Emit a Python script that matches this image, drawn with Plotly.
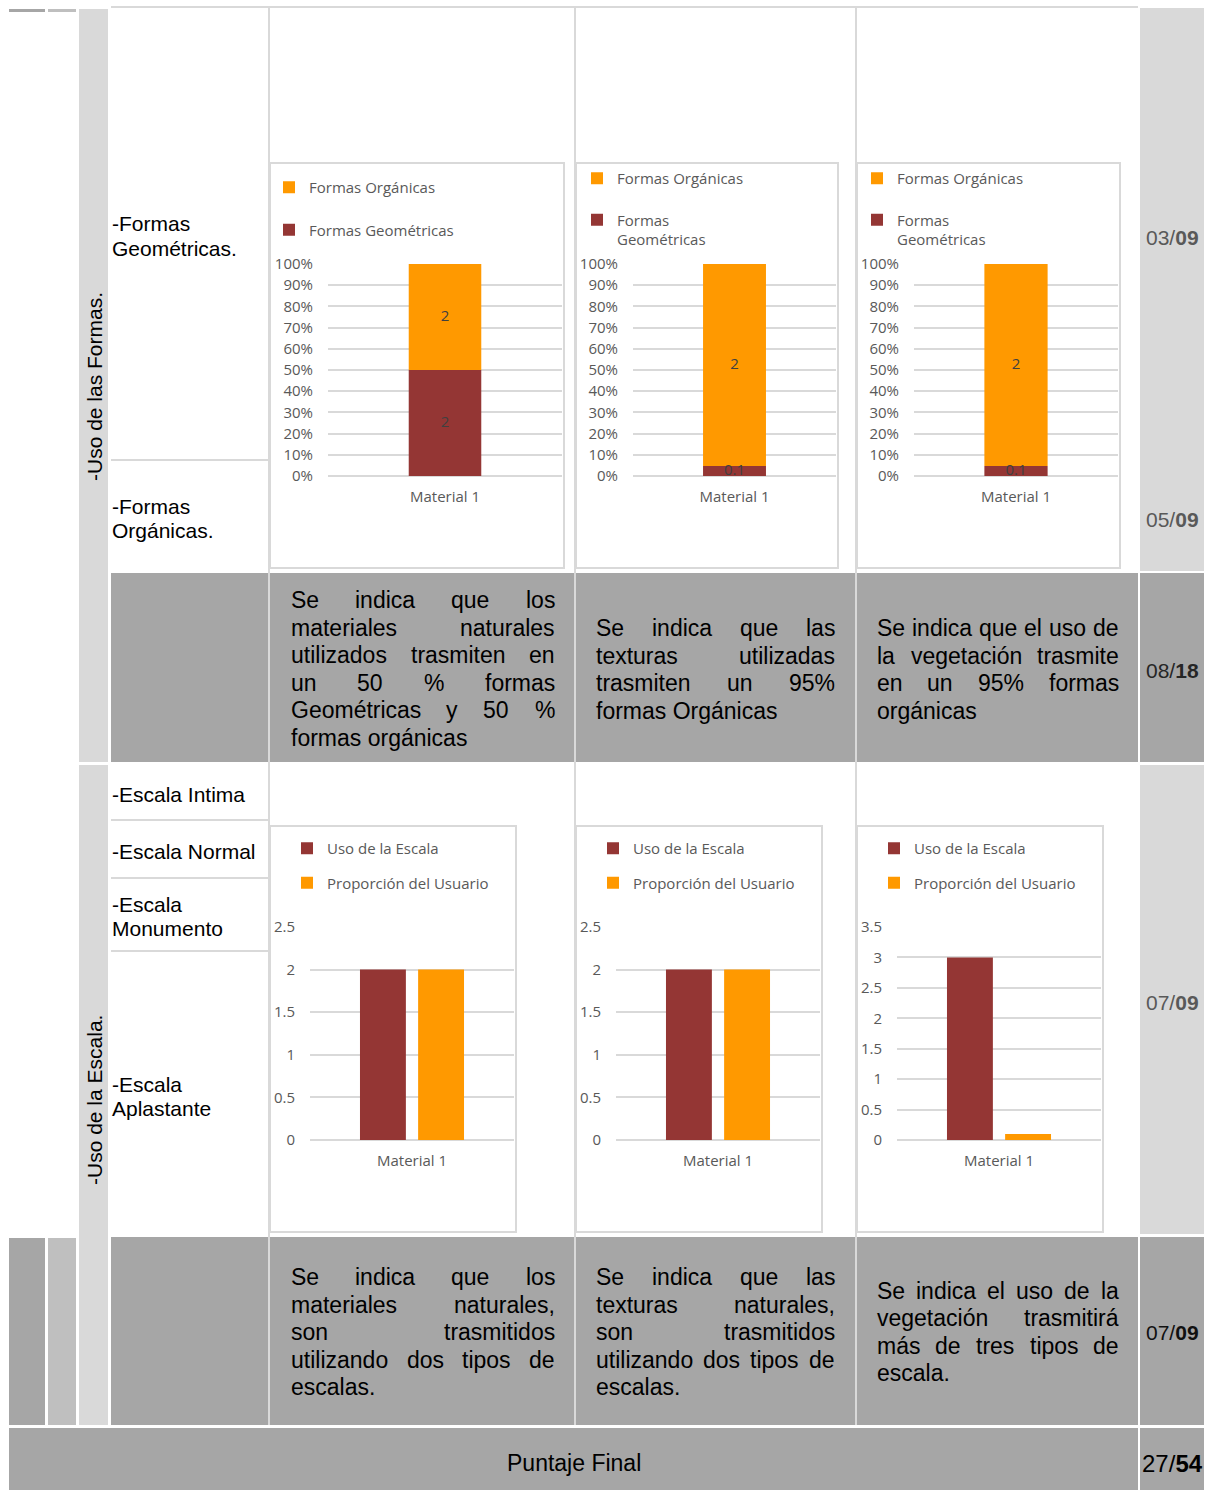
import plotly.graph_objects as go

W, H = 1208, 1490

# ------------------------------------------------------------------ data
categories = ["Material 1"]

# Uso de las Formas (100% stacked) - one chart per column
formas_geometricas = [2, 0.1, 0.1]
formas_organicas = [2, 2, 2]
geo_names = ["Formas Geométricas", "Formas<br>Geométricas", "Formas<br>Geométricas"]
org_name = "Formas Orgánicas"

# Uso de la Escala (clustered) - one chart per column
uso_escala = [2, 2, 3]
proporcion_usuario = [2, 2, 0.1]
escala_names = ["Uso de la Escala", "Proporción del Usuario"]
escala_max = [2.5, 2.5, 3.5]

section_titles = ["-Uso de las Formas.", "-Uso de la Escala."]
formas_labels = [["-Formas", "Geométricas."], ["-Formas", "Orgánicas."]]
escala_labels = [["-Escala Intima"], ["-Escala Normal"], ["-Escala", "Monumento"], ["-Escala", "Aplastante"]]
scores = [("03", "09"), ("05", "09"), ("08", "18"), ("07", "09"), ("07", "09")]
final_label = "Puntaje Final"
final_score = ("27", "54")

text_formas = [
    ["Se indica que los", "materiales naturales", "utilizados trasmiten en",
     "un 50 % formas", "Geométricas y 50 %", "formas orgánicas"],
    ["Se indica que las", "texturas utilizadas", "trasmiten un 95%", "formas Orgánicas"],
    ["Se indica que el uso de", "la vegetación trasmite", "en un 95% formas", "orgánicas"],
]
text_escala = [
    ["Se indica que los", "materiales naturales,", "son trasmitidos",
     "utilizando dos tipos de", "escalas."],
    ["Se indica que las", "texturas naturales,", "son trasmitidos",
     "utilizando dos tipos de", "escalas."],
    ["Se indica el uso de la", "vegetación trasmitirá", "más de tres tipos de", "escala."],
]

# ------------------------------------------------------------------ style
MAROON = "#943634"
ORANGE = "#FF9900"
GRID = "#D9D9D9"
LIGHT = "#D9D9D9"
MID = "#BFBFBF"
DARK = "#A6A6A6"
CHART_TXT = "#595959"
CFONT = "Open Sans"
TFONT = "Liberation Sans, Arial"


def px(x):
    return x / W


def py(y):
    return 1 - y / H


shapes = []
annotations = []


def rect(x0, y0, x1, y1, fill=None, line=None, lw=0):
    shapes.append(dict(type="rect", xref="paper", yref="paper",
                       x0=px(x0), x1=px(x1), y0=py(y1), y1=py(y0),
                       fillcolor=fill if fill else "rgba(0,0,0,0)",
                       line=dict(color=line if line else "rgba(0,0,0,0)", width=lw),
                       layer="below"))


def ann(text, x, y, size, color="black", xanchor="left", family=TFONT, angle=0):
    annotations.append(dict(text=text, x=px(x), y=py(y), xref="paper", yref="paper",
                            xanchor=xanchor, yanchor="middle", showarrow=False,
                            textangle=angle, font=dict(size=size, color=color, family=family)))


# Arial / Liberation Sans advance widths (per 1000 em)
AW = {' ': 278, ',': 278, '.': 278, '-': 333, '/': 278, '%': 889,
      'a': 556, 'b': 556, 'c': 500, 'd': 556, 'e': 556, 'f': 278, 'g': 556, 'h': 556,
      'i': 222, 'j': 222, 'k': 500, 'l': 222, 'm': 833, 'n': 556, 'o': 556, 'p': 556,
      'q': 556, 'r': 333, 's': 500, 't': 278, 'u': 556, 'v': 500, 'w': 722, 'x': 500,
      'y': 500, 'z': 500, 'á': 556, 'é': 556, 'í': 278, 'ó': 556, 'ú': 556, 'ñ': 556,
      'A': 667, 'B': 667, 'C': 722, 'D': 722, 'E': 667, 'F': 611, 'G': 778, 'H': 722,
      'I': 278, 'J': 500, 'K': 667, 'L': 556, 'M': 833, 'N': 722, 'O': 778, 'P': 667,
      'Q': 778, 'R': 722, 'S': 667, 'T': 611, 'U': 722, 'V': 667, 'W': 944, 'X': 667,
      'Y': 667, 'Z': 611}


def tw(s, fs):
    return sum(AW.get(c, 556) for c in s) * fs / 1000.0


def justified(lines, x0, x1, y_first, lh, fs, color="black"):
    for k, line in enumerate(lines):
        y = y_first + k * lh
        words = line.split()
        if k == len(lines) - 1 or len(words) == 1:
            ann(line, x0 + tw(line, fs) / 2, y, fs, color, xanchor="center")
            continue
        widths = [tw(w, fs) for w in words]
        gap = (x1 - x0 - sum(widths)) / (len(words) - 1)
        x = x0
        for j, w in enumerate(words):
            ann(w, x + widths[j] / 2, y, fs, color, xanchor="center")
            x += widths[j] + gap


# ------------------------------------------------------------------ table frame
rect(9, 9, 45, 12, DARK)
rect(48, 9, 76, 12, MID)
rect(111, 6, 1138, 8, LIGHT)

# vertical title column
rect(79, 9, 108, 762, LIGHT)
rect(79, 765, 108, 1425, LIGHT)

# score column
rect(1140, 8, 1204, 571, LIGHT)
rect(1140, 573, 1204, 762, DARK)
rect(1140, 765, 1204, 1234, LIGHT)
rect(1140, 1237, 1204, 1425, DARK)

# text rows
rect(111, 573, 1138, 762, DARK)
rect(111, 1237, 1138, 1425, DARK)
rect(9, 1238, 45, 1425, DARK)
rect(48, 1238, 76, 1425, MID)

# final row
rect(9, 1428, 1138, 1490, DARK)
rect(1140, 1428, 1204, 1490, DARK)

# column separators
for xs in (268, 574, 855):
    rect(xs, 8, xs + 2, 1425, LIGHT)

# label cell separators
for ys in (459, 819, 877, 950):
    rect(111, ys, 268, ys + 2, LIGHT)

# chart boxes
top_boxes = [(270, 163, 564, 568), (576, 163, 838, 568), (857, 163, 1120, 568)]
bot_boxes = [(270, 826, 516, 1232), (576, 826, 822, 1232), (857, 826, 1103, 1232)]
for b in top_boxes + bot_boxes:
    rect(*b, fill="white", line=LIGHT, lw=2)

# ------------------------------------------------------------------ texts
ann(section_titles[0], 94, 387, 21, angle=-90, xanchor="center")
ann(section_titles[1], 94, 1100, 21, angle=-90, xanchor="center")

for lines, y0 in zip(formas_labels, (224, 506)):
    for k, t in enumerate(lines):
        ann(t, 110, y0 + 24 * k, 21)
for lines, y0 in zip(escala_labels, (794, 851, 904, 1084)):
    for k, t in enumerate(lines):
        ann(t, 110, y0 + 24.5 * k, 21)

score_pos = [(237, "#595959"), (519, "#595959"), (670, "#262626"), (1002, "#595959"), (1332, "#111111")]
for (a, b), (yy, col) in zip(scores, score_pos):
    ann(f"{a}/<b>{b}</b>", 1172, yy, 21, col, xanchor="center")

ann(final_label, 573.5, 1463, 23, xanchor="center")
ann(f"{final_score[0]}/<b>{final_score[1]}</b>", 1172, 1463, 24, xanchor="center")

col_x = [(291, 555), (596, 835), (877, 1119)]
justified(text_formas[0], *col_x[0], 600, 27.6, 23)
justified(text_formas[1], *col_x[1], 628, 27.6, 23)
justified(text_formas[2], *col_x[2], 628, 27.6, 23)
justified(text_escala[0], *col_x[0], 1277, 27.5, 23)
justified(text_escala[1], *col_x[1], 1277, 27.5, 23)
justified(text_escala[2], *col_x[2], 1291, 27.4, 23)

# ------------------------------------------------------------------ charts
fig = go.Figure()
layout = {}

top_plot_x = [(328, 562), (633, 836), (914, 1118)]
bot_plot_x = [(310, 514), (616, 820), (897, 1101)]
top_legend = [(293, 187), (601, 178), (881, 178)]
bot_legend = [(311, 848), (617, 848), (898, 848)]

tickfont = dict(size=15, color=CHART_TXT, family=CFONT)


def fmt(v):
    return f"{v:g}"


for i in range(3):
    n = i + 1
    xa, ya = f"x{n}", f"y{n}"
    lg = "legend" if n == 1 else f"legend{n}"
    g, o = formas_geometricas[i], formas_organicas[i]
    tot = g + o
    pg, po = g / tot * 100, o / tot * 100
    fig.add_trace(go.Bar(x=categories, y=[pg], base=[0], name=geo_names[i],
                         marker=dict(color=MAROON, line=dict(width=0)), width=0.31,
                         xaxis=xa, yaxis=ya, legend=lg, legendgroup=f"g{n}", legendrank=2,
                         hoverinfo="skip"))
    fig.add_trace(go.Bar(x=categories, y=[po], base=[pg], name=org_name,
                         marker=dict(color=ORANGE, line=dict(width=0)), width=0.31,
                         xaxis=xa, yaxis=ya, legend=lg, legendgroup=f"o{n}", legendrank=1,
                         hoverinfo="skip"))
    fig.add_trace(go.Scatter(x=categories * 2, y=[pg / 2, pg + po / 2], mode="text",
                             text=[fmt(g), fmt(o)], textposition="middle center",
                             textfont=dict(size=15, color="#404040", family=CFONT),
                             showlegend=False, cliponaxis=False, xaxis=xa, yaxis=ya,
                             hoverinfo="skip"))
    x0, x1 = top_plot_x[i]
    layout[f"xaxis{n}"] = dict(domain=[px(x0), px(x1)], anchor=ya, type="category",
                               range=[-0.5, 0.5], showgrid=False, zeroline=False,
                               showline=False, ticks="outside", ticklen=7,
                               tickcolor="rgba(0,0,0,0)", tickfont=tickfont, fixedrange=True,
                               automargin=False)
    layout[f"yaxis{n}"] = dict(domain=[py(476), py(264)], anchor=xa, range=[0, 100],
                               tick0=0, dtick=10, ticksuffix="%", showgrid=True,
                               gridcolor=GRID, gridwidth=2, zeroline=True, zerolinecolor=GRID,
                               zerolinewidth=2, showline=False, ticks="outside", ticklen=11,
                               tickcolor="rgba(0,0,0,0)", tickfont=tickfont, fixedrange=True,
                               automargin=False)
    sx, sy = top_legend[i]
    layout[lg] = dict(x=px(sx - 24), y=py(sy - 16), xanchor="left", yanchor="top",
                      bgcolor="rgba(0,0,0,0)", font=dict(size=15, color=CHART_TXT, family=CFONT),
                      traceorder="grouped", tracegroupgap=20 if i == 0 else 19,
                      valign="top")

for i in range(3):
    n = i + 4
    xa, ya = f"x{n}", f"y{n}"
    lg = f"legend{n}"
    fig.add_trace(go.Bar(x=categories, y=[uso_escala[i]], name=escala_names[0],
                         marker=dict(color=MAROON, line=dict(width=0)), offset=-0.255, width=0.225,
                         xaxis=xa, yaxis=ya, legend=lg, legendgroup=f"u{n}", legendrank=1,
                         hoverinfo="skip"))
    fig.add_trace(go.Bar(x=categories, y=[proporcion_usuario[i]], name=escala_names[1],
                         marker=dict(color=ORANGE, line=dict(width=0)), offset=0.03, width=0.225,
                         xaxis=xa, yaxis=ya, legend=lg, legendgroup=f"p{n}", legendrank=2,
                         hoverinfo="skip"))
    x0, x1 = bot_plot_x[i]
    layout[f"xaxis{n}"] = dict(domain=[px(x0), px(x1)], anchor=ya, type="category",
                               range=[-0.5, 0.5], showgrid=False, zeroline=False,
                               showline=False, ticks="outside", ticklen=7,
                               tickcolor="rgba(0,0,0,0)", tickfont=tickfont, fixedrange=True,
                               automargin=False)
    layout[f"yaxis{n}"] = dict(domain=[py(1140), py(927)], anchor=xa, range=[0, escala_max[i]],
                               dtick=0.5, tick0=0, showgrid=True,
                               gridcolor=GRID, gridwidth=2, zeroline=True, zerolinecolor=GRID,
                               zerolinewidth=2, showline=False, ticks="outside", ticklen=11,
                               tickcolor="rgba(0,0,0,0)", tickfont=tickfont, fixedrange=True,
                               automargin=False)
    sx, sy = bot_legend[i]
    layout[lg] = dict(x=px(sx - 24), y=py(sy - 16), xanchor="left", yanchor="top",
                      bgcolor="rgba(0,0,0,0)", font=dict(size=15, color=CHART_TXT, family=CFONT),
                      traceorder="grouped", tracegroupgap=12)

fig.update_layout(
    width=W, height=H, autosize=False,
    margin=dict(l=0, r=0, t=0, b=0, pad=0, autoexpand=False),
    paper_bgcolor="white", plot_bgcolor="rgba(0,0,0,0)",
    barmode="overlay", showlegend=True, hovermode=False,
    shapes=shapes, annotations=annotations,
    **layout,
)

fig.write_html("out.html", config={"displayModeBar": False})
